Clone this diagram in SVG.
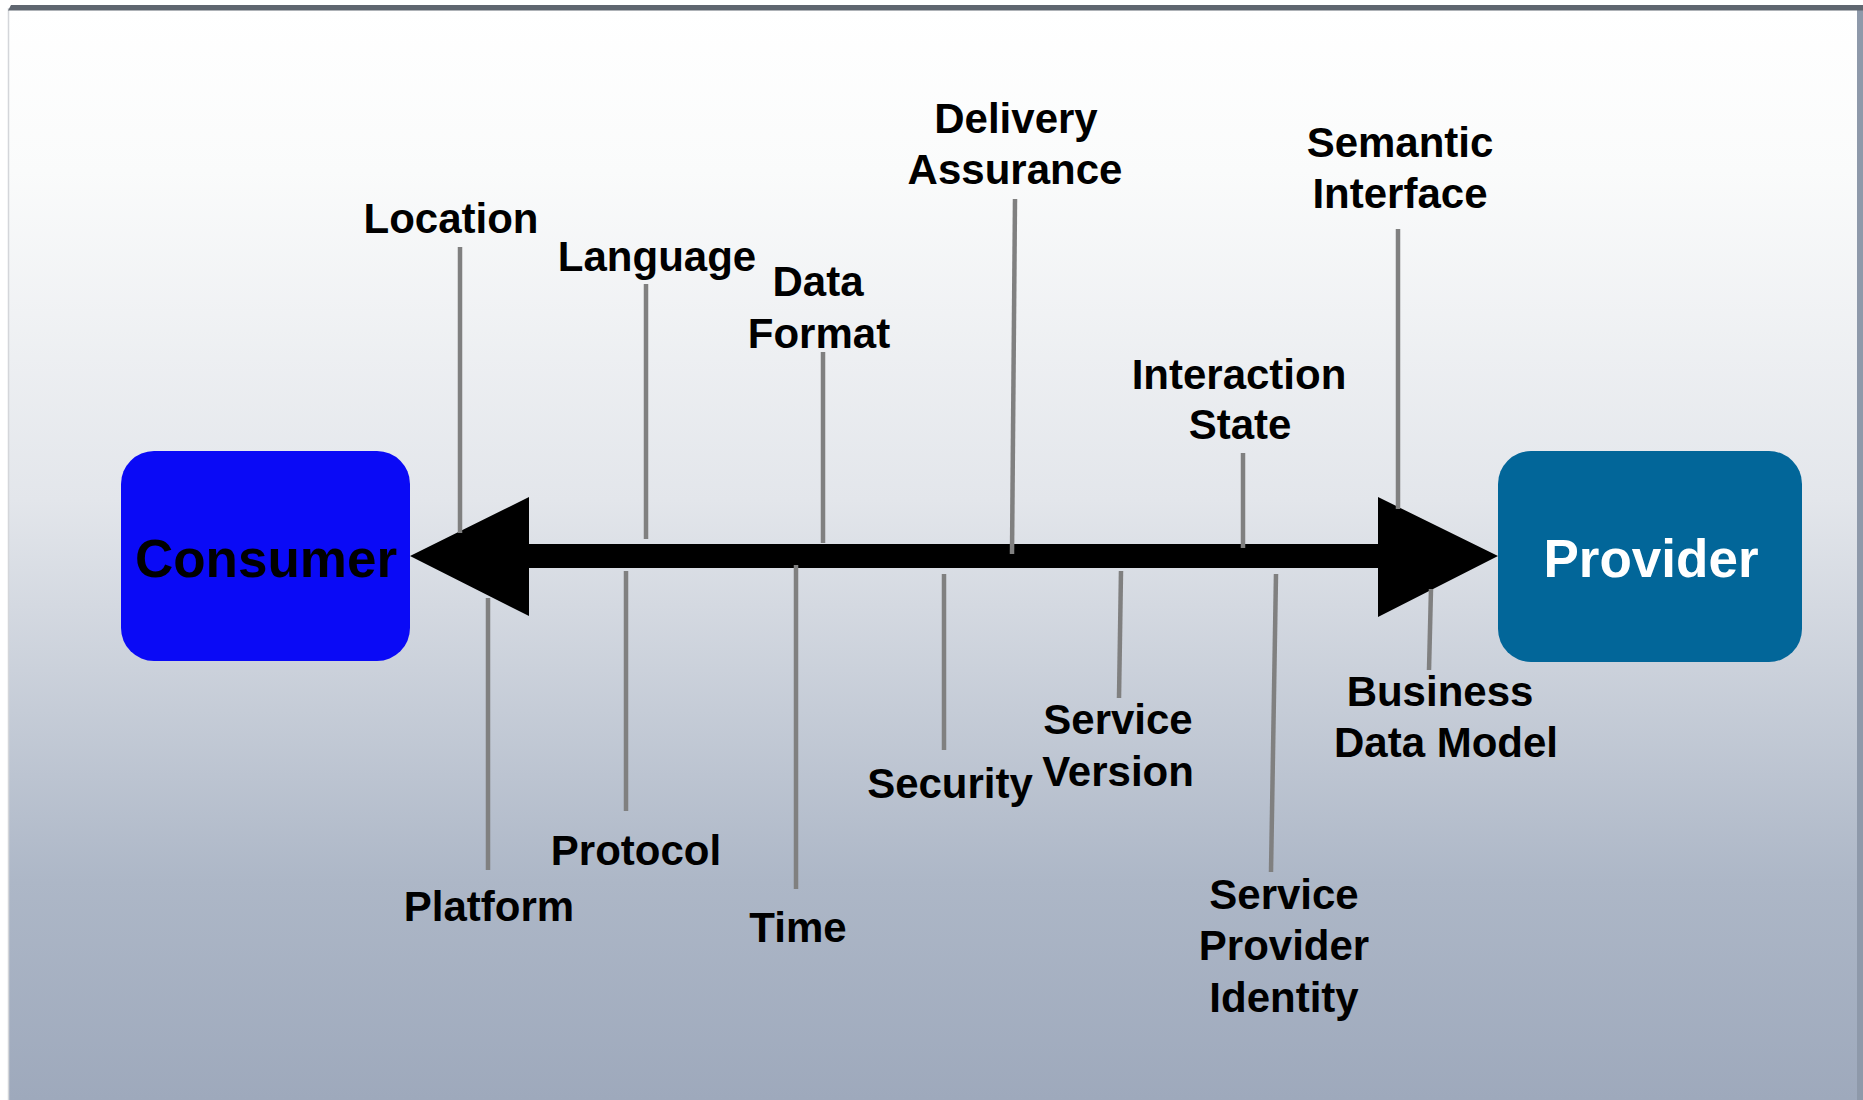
<svg xmlns="http://www.w3.org/2000/svg" width="1863" height="1100" viewBox="0 0 1863 1100">
<defs>
<linearGradient id="bg" x1="0" y1="0" x2="0" y2="1">
<stop offset="0" stop-color="#ffffff"/>
<stop offset="0.15" stop-color="#fafbfb"/>
<stop offset="0.45" stop-color="#e3e6eb"/>
<stop offset="0.8" stop-color="#adb7c7"/>
<stop offset="1" stop-color="#9ea9bc"/>
</linearGradient>
<style>
.lbl{font-family:"Liberation Sans",Arial,sans-serif;font-weight:bold;font-size:42px;fill:#000;text-anchor:middle}
.tick{stroke:#808080;stroke-width:4.5;fill:none}
.box{font-family:"Liberation Sans",Arial,sans-serif;font-weight:bold;font-size:53px;text-anchor:middle}
</style>
</defs>
<rect x="0" y="0" width="1863" height="1100" fill="#ffffff"/>
<rect x="8" y="8" width="1852" height="1092" fill="url(#bg)"/>
<line x1="8.5" y1="8" x2="8.5" y2="1100" stroke="#d4d6da" stroke-width="1.5"/>
<rect x="1857" y="8" width="6" height="1092" fill="#8e99aa"/>
<polygon points="8,10.5 11,5 1863,5 1863,10.5" fill="#5f6670"/>

<g id="arrow">
<polygon points="410,556 529,497 529,544 1378,544 1378,497 1498,556 1378,617 1378,568 529,568 529,616" fill="#000"/>
</g>

<g id="consumer">
<rect x="121" y="451" width="289" height="210" rx="33" fill="#0a0af6"/>
<text class="box" x="266" y="577" fill="#000">Consumer</text>
</g>
<g id="provider">
<rect x="1498" y="451" width="304" height="211" rx="33" fill="#026699"/>
<text class="box" x="1651" y="577" fill="#fff">Provider</text>
</g>

<g id="connectors">
<line class="tick" x1="460" y1="247" x2="460" y2="533"/>
<line class="tick" x1="646" y1="284" x2="646" y2="539"/>
<line class="tick" x1="823" y1="352" x2="823" y2="543"/>
<line class="tick" x1="1015" y1="199" x2="1012" y2="554"/>
<line class="tick" x1="1398" y1="229" x2="1398" y2="509"/>
<line class="tick" x1="1243" y1="453" x2="1243" y2="548"/>
<line class="tick" x1="488" y1="598" x2="488" y2="870"/>
<line class="tick" x1="626" y1="571" x2="626" y2="811"/>
<line class="tick" x1="796" y1="565" x2="796" y2="889"/>
<line class="tick" x1="944" y1="574" x2="944" y2="750"/>
<line class="tick" x1="1121" y1="571" x2="1119" y2="698"/>
<line class="tick" x1="1276" y1="574" x2="1271" y2="872"/>
<line class="tick" x1="1431" y1="589" x2="1429" y2="670"/>
</g>

<g id="location"><text class="lbl" x="451" y="233">Location</text></g>
<g id="language"><text class="lbl" x="657" y="271">Language</text></g>
<g id="data-format"><text class="lbl" x="818" y="296">Data</text><text class="lbl" x="819" y="348">Format</text></g>
<g id="delivery-assurance"><text class="lbl" x="1016" y="133">Delivery</text><text class="lbl" x="1015" y="184">Assurance</text></g>
<g id="semantic-interface"><text class="lbl" x="1400" y="157">Semantic</text><text class="lbl" x="1400" y="208">Interface</text></g>
<g id="interaction-state"><text class="lbl" x="1239" y="389">Interaction</text><text class="lbl" x="1240" y="439">State</text></g>
<g id="platform"><text class="lbl" x="489" y="921">Platform</text></g>
<g id="protocol"><text class="lbl" x="636" y="865">Protocol</text></g>
<g id="time"><text class="lbl" x="798" y="942">Time</text></g>
<g id="security"><text class="lbl" x="950" y="798">Security</text></g>
<g id="service-version"><text class="lbl" x="1118" y="734">Service</text><text class="lbl" x="1118" y="786">Version</text></g>
<g id="service-provider-identity"><text class="lbl" x="1284" y="909">Service</text><text class="lbl" x="1284" y="960">Provider</text><text class="lbl" x="1284" y="1012">Identity</text></g>
<g id="business-data-model"><text class="lbl" x="1440" y="706">Business</text><text class="lbl" x="1446" y="757">Data Model</text></g>
</svg>
